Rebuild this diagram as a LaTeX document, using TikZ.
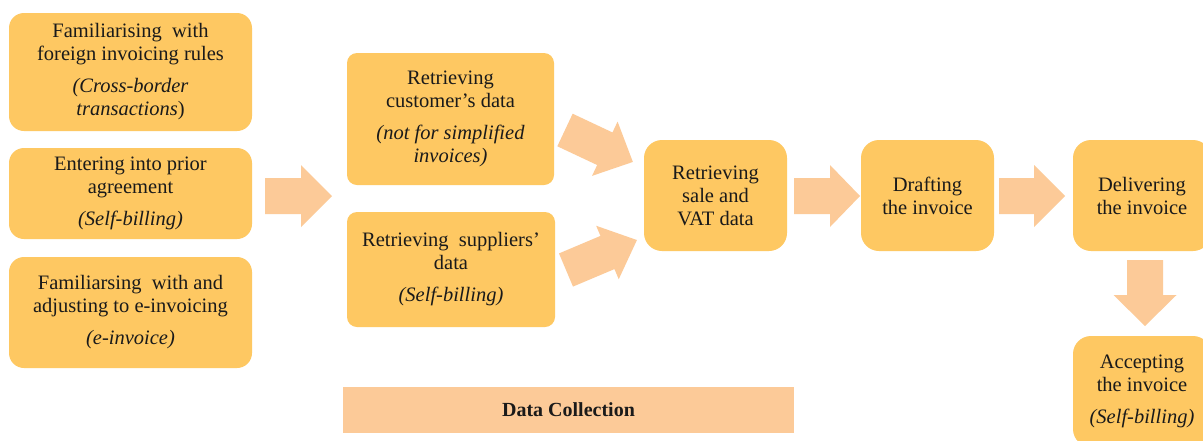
\documentclass[tikz,border=0pt]{standalone}
\usepackage{fontspec}
\setmainfont{Liberation Serif}
\definecolor{boxfill}{HTML}{FEC862}
\definecolor{arrowfill}{HTML}{FCCA98}
\definecolor{txt}{HTML}{1A1A1A}
\newcommand\blockarr[5]{% tail, angle, length, head length, head half width
  \fill[arrowfill, shift={#1}, rotate=#2]
    (0,-18) -- ({#3-#4},-18) -- ({#3-#4},-#5) -- (#3,0) -- ({#3-#4},#5) -- ({#3-#4},18) -- (0,18) -- cycle;}
\begin{document}
\begin{tikzpicture}[x=1pt,y=-1pt,
  box/.style={fill=boxfill, draw=none, text=txt, align=center, inner sep=0pt,
    font=\fontsize{20.5}{23}\selectfont},
  bar/.style={fill=arrowfill, draw=none, text=txt, inner sep=0pt}]
\clip (0,0) rectangle (1203,440);
\fill[white] (0,0) rectangle (1203,440);
% left column
\node[box, rounded corners=15pt, minimum width=243pt, minimum height=118pt] (a1) at (130.5,72)
  {Familiarising\ \ with\\foreign invoicing rules\\[9pt]\itshape(Cross-border\\\itshape transactions\upshape)};
\node[box, rounded corners=15pt, minimum width=243pt, minimum height=91pt] (a2) at (130.5,193.5)
  {Entering into prior\\agreement\\[9pt]\itshape(Self-billing)};
\node[box, rounded corners=15pt, minimum width=243pt, minimum height=111pt] (a3) at (130.5,312.5)
  {Familiarsing\ \ with and\\adjusting to e-invoicing\\[9pt]\itshape(e-invoice)};
% middle column
\node[box, rounded corners=10pt, minimum width=207pt, minimum height=132pt] (b1) at (450.5,119)
  {Retrieving\\customer's data\\[9pt]\itshape(not for simplified\\\itshape invoices)};
\node[box, rounded corners=10pt, minimum width=208pt, minimum height=115pt] (b2) at (451,269.5)
  {Retrieving\ \ suppliers'\\data\\[9pt]\itshape(Self-billing)};
% main flow
\node[box, rounded corners=18pt, minimum width=143pt, minimum height=111pt] (c) at (715.5,195.5)
  {Retrieving\\sale and\\VAT data};
\node[box, rounded corners=18pt, minimum width=133pt, minimum height=111pt] (d) at (927.5,195.5)
  {Drafting\\the invoice};
\node[box, rounded corners=18pt, minimum width=138pt, minimum height=111pt] (e) at (1142,195.5)
  {Delivering\\the invoice};
\node[box, rounded corners=18pt, minimum width=138pt, minimum height=111pt] (f) at (1142,391.5)
  {Accepting\\the invoice\\[9pt]\itshape(Self-billing)};
% block arrows
\blockarr{(265,196)}{0}{67}{31}{31}
\blockarr{(565,130)}{-25.2}{75}{31}{30}
\blockarr{(566,270)}{22.9}{77}{32}{29}
\blockarr{(794,196)}{0}{66}{30}{31}
\blockarr{(999,196)}{0}{66}{31}{31}
\blockarr{(1145,260)}{-90}{66}{31}{31.5}
% bottom bar
\node[bar, minimum width=451pt, minimum height=46pt, font=\fontsize{20}{23}\selectfont\bfseries] (dc) at (568.5,410) {Data Collection};
\end{tikzpicture}
\end{document}
